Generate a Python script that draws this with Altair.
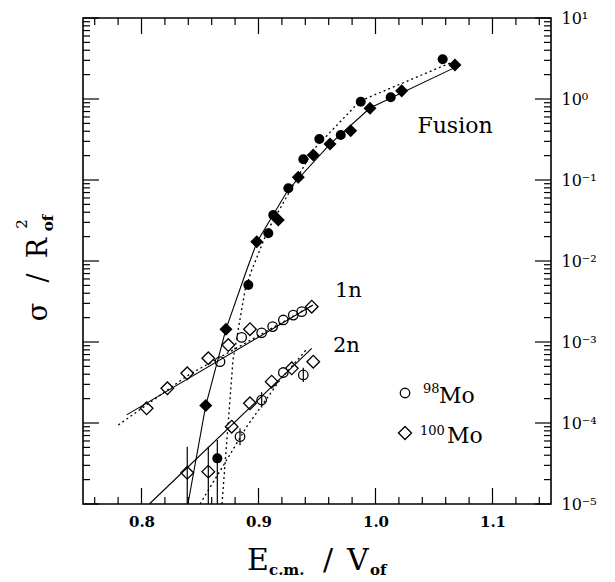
import altair as alt
import pandas as pd

# ---------------- data ----------------
# Fusion, 98Mo (filled circles)
fus98_x = [1.0574, 1.0130, 0.9874, 0.9703, 0.9520, 0.9383, 0.9255, 0.9126, 0.9084, 0.8913, 0.8648]
fus98_y = [3.09, 1.05, 0.927, 0.360, 0.321, 0.180, 0.0791, 0.0370, 0.0220, 0.00506, 3.66e-5]
# Fusion, 100Mo (filled diamonds)
fus100_x = [1.0679, 1.0224, 0.9953, 0.9788, 0.9611, 0.9468, 0.9340, 0.9169, 0.8985, 0.8722, 0.8549]
fus100_y = [2.63, 1.26, 0.767, 0.406, 0.278, 0.204, 0.108, 0.0321, 0.0173, 0.00144, 1.64e-4]
# 1n, 98Mo (open circles)
n1_98_x = [0.9369, 0.9297, 0.9212, 0.9121, 0.9027, 0.8856, 0.8671]
n1_98_y = [2.37e-3, 2.15e-3, 1.87e-3, 1.55e-3, 1.30e-3, 1.14e-3, 5.71e-4]
# 1n, 100Mo (open diamonds)
n1_100_x = [0.9455, 0.8927, 0.8742, 0.8571, 0.8391, 0.8221, 0.8044]
n1_100_y = [2.73e-3, 1.44e-3, 9.18e-4, 6.30e-4, 4.11e-4, 2.68e-4, 1.52e-4]
# 2n, 98Mo (open circles)
n2_98_x = [0.9383, 0.9212, 0.9027, 0.8842]
n2_98_y = [3.92e-4, 4.2e-4, 1.92e-4, 6.78e-5]
# 2n, 100Mo (open diamonds)
n2_100_x = [0.9468, 0.9284, 0.9113, 0.8927, 0.8771, 0.8571, 0.8391]
n2_100_y = [5.71e-4, 4.73e-4, 3.24e-4, 1.75e-4, 9.0e-5, 2.51e-5, 2.43e-5]

# calculated curves (solid and dotted)
fus_solid_x = [0.8397, 0.8549, 0.8722, 0.8899, 0.8987, 0.9252, 0.9611, 0.9953, 1.0694]
fus_solid_y = [1e-5, 1.64e-4, 1.44e-3, 7.74e-3, 0.0172, 0.0753, 0.278, 0.774, 2.51]
fus_dot_x = [0.8688, 0.8782, 0.8885, 0.8942, 0.9081, 0.9466, 0.9868, 1.0637]
fus_dot_y = [1e-5, 6.0e-4, 4.39e-3, 7.74e-3, 0.0242, 0.234, 0.944, 2.78]
n1_solid_x = [0.7873, 0.9466]
n1_solid_y = [1.26e-4, 2.86e-3]
n1_dot_x = [0.7802, 0.8400, 0.9466]
n1_dot_y = [9.44e-5, 3.9e-4, 2.86e-3]
n2_solid_x = [0.8067, 0.9455]
n2_solid_y = [1e-5, 8.35e-4]
n2_dot_x = [0.8500, 0.8728, 0.8899, 0.9184, 0.9406]
n2_dot_y = [1e-5, 3.49e-5, 9.0e-5, 3.40e-4, 7.96e-4]

# error bars
err_x = [0.8391, 0.8571, 0.8648, 0.9383, 0.9027, 0.8842]
err_lo = [1e-5, 1e-5, 1e-5, 3.2e-4, 1.55e-4, 5.3e-5]
err_hi = [5.09e-5, 5.09e-5, 6.17e-5, 4.8e-4, 2.4e-4, 8.6e-5]

# axis ticks / labels
x_major = [0.8, 0.9, 1.0, 1.1]
x_minor = [0.76, 0.78, 0.82, 0.84, 0.86, 0.88, 0.92, 0.94, 0.96, 0.98,
           1.02, 1.04, 1.06, 1.08, 1.12, 1.14]
y_major = [1e-5, 1e-4, 1e-3, 1e-2, 1e-1, 1e0, 1e1]
y_labels = ["10⁻⁵", "10⁻⁴", "10⁻³", "10⁻²", "10⁻¹", "10⁰", "10¹"]
y_minor = [k * 10.0 ** e for e in range(-5, 1) for k in range(2, 10)]

# ---------------- chart ----------------
W, H = 468, 486
FONT = "DejaVu Serif"
xs = alt.Scale(domain=[0.75, 1.15], nice=False, zero=False)
ys = alt.Scale(type="log", domain=[1e-5, 10], nice=False)

label_expr = "[" + ",".join("'" + s + "'" for s in y_labels) + "][round(log(datum.value)/LN10)+5]"
X_AX = alt.Axis(values=x_major, format=".1f", ticks=False, domain=False, grid=False,
                title=None, labelFont=FONT, labelFontSize=15, labelFontWeight="bold",
                labelPadding=10, labelColor="black", labelFlush=False)
Y_AX = alt.Axis(orient="right", values=y_major, labelExpr=label_expr, ticks=False,
                domain=False, grid=False, title=None, labelFont=FONT, labelFontSize=16,
                labelPadding=10, labelColor="black", labelAlign="left",
                labelBaseline="middle", labelFlush=False, labelOverlap=False)


def enc_xy():
    return dict(x=alt.X("x:Q", scale=xs, axis=X_AX), y=alt.Y("y:Q", scale=ys, axis=Y_AX))


def pts(xv, yv, shape, filled, size):
    df = pd.DataFrame({"x": xv, "y": yv})
    return alt.Chart(df).mark_point(shape=shape, filled=filled, size=size, color="black",
                                    strokeWidth=1.3, opacity=1).encode(**enc_xy())


def line(xv, yv, dash=False):
    df = pd.DataFrame({"x": xv, "y": yv})
    kw = dict(color="black", strokeWidth=1.1)
    if dash:
        kw["strokeDash"] = [2, 3]
        kw["strokeWidth"] = 1.3
    return alt.Chart(df).mark_line(**kw).encode(**enc_xy())


def txt(s, x, y, size, align="left", angle=0, weight="normal"):
    kw = dict(text=s, font=FONT, fontSize=size, align=align, baseline="alphabetic",
              color="black", fontWeight=weight)
    if angle:
        kw["angle"] = angle
    return alt.Chart().mark_text(**kw).encode(x=alt.value(x), y=alt.value(y))


layers = []
# lines
layers += [line(fus_solid_x, fus_solid_y), line(fus_dot_x, fus_dot_y, True),
           line(n1_solid_x, n1_solid_y), line(n1_dot_x, n1_dot_y, True),
           line(n2_solid_x, n2_solid_y), line(n2_dot_x, n2_dot_y, True)]
# error bars
err_df = pd.DataFrame({"x": err_x, "lo": err_lo, "hi": err_hi})
layers.append(alt.Chart(err_df).mark_rule(color="black", strokeWidth=1.2).encode(
    x=alt.X("x:Q", scale=xs, axis=X_AX), y=alt.Y("lo:Q", scale=ys, axis=Y_AX), y2="hi:Q"))
# points
layers += [pts(n1_98_x, n1_98_y, "circle", False, 90),
           pts(n1_100_x, n1_100_y, "diamond", False, 160),
           pts(n2_98_x, n2_98_y, "circle", False, 90),
           pts(n2_100_x, n2_100_y, "diamond", False, 160),
           pts(fus98_x, fus98_y, "circle", True, 100),
           pts(fus100_x, fus100_y, "diamond", True, 170)]

# inward ticks (through the scales)
TL, TS = 16, 7
ymaj = pd.DataFrame({"v": y_major})
ymin = pd.DataFrame({"v": y_minor})
xmaj = pd.DataFrame({"v": x_major})
xmin = pd.DataFrame({"v": x_minor})
for df, L in [(ymaj, TL), (ymin, TS)]:
    layers.append(alt.Chart(df).mark_rule(color="black", strokeWidth=1.2).encode(
        y=alt.Y("v:Q", scale=ys, axis=Y_AX), x=alt.value(0), x2=alt.value(L)))
    layers.append(alt.Chart(df).mark_rule(color="black", strokeWidth=1.2).encode(
        y=alt.Y("v:Q", scale=ys, axis=Y_AX), x=alt.value(W - L), x2=alt.value(W)))
for df, L in [(xmaj, TL), (xmin, TS)]:
    layers.append(alt.Chart(df).mark_rule(color="black", strokeWidth=1.2).encode(
        x=alt.X("v:Q", scale=xs, axis=X_AX), y=alt.value(H - L), y2=alt.value(H)))
    layers.append(alt.Chart(df).mark_rule(color="black", strokeWidth=1.2).encode(
        x=alt.X("v:Q", scale=xs, axis=X_AX), y=alt.value(0), y2=alt.value(L)))

# annotations
layers += [txt("Fusion", 372, 115, 22, "center"),
           txt("1n", 252, 279, 21),
           txt("2n", 250, 334, 21)]
# legend
layers.append(alt.Chart().mark_point(shape="circle", filled=False, size=90, color="black",
                                     strokeWidth=1.3, opacity=1).encode(
    x=alt.value(322), y=alt.value(375)))
layers.append(alt.Chart().mark_point(shape="diamond", filled=False, size=170, color="black",
                                     strokeWidth=1.3, opacity=1).encode(
    x=alt.value(322), y=alt.value(415)))
layers += [txt("98", 340, 375, 13), txt("Mo", 356, 385, 22),
           txt("100", 337, 417, 13), txt("Mo", 364, 425, 22)]
# x-axis title: E_c.m. / V_of
layers += [txt("E", 164, 552, 30), txt("c.m.", 186, 557, 15, weight="bold"),
           txt("/", 240, 552, 30), txt("V", 264, 552, 30),
           txt("of", 287, 557, 15, weight="bold")]
# y-axis title: sigma / R^2_of (rotated)
layers += [txt("σ", -36, 294, 27, "center", 270),
           txt("/", -36, 260, 27, "center", 270),
           txt("R", -36, 230, 27, "center", 270),
           txt("2", -56, 206, 15, "center", 270),
           txt("of", -30, 205, 15, "center", 270, "bold")]

chart = alt.layer(*layers).properties(
    width=W, height=H,
    padding={"left": 83, "top": 18, "right": 64, "bottom": 78},
    autosize=alt.AutoSizeParams(type="none"),
    background="white",
).configure_view(stroke="black", strokeWidth=1.6)

chart.save("out.html", embed_options={"renderer": "svg", "actions": False})
